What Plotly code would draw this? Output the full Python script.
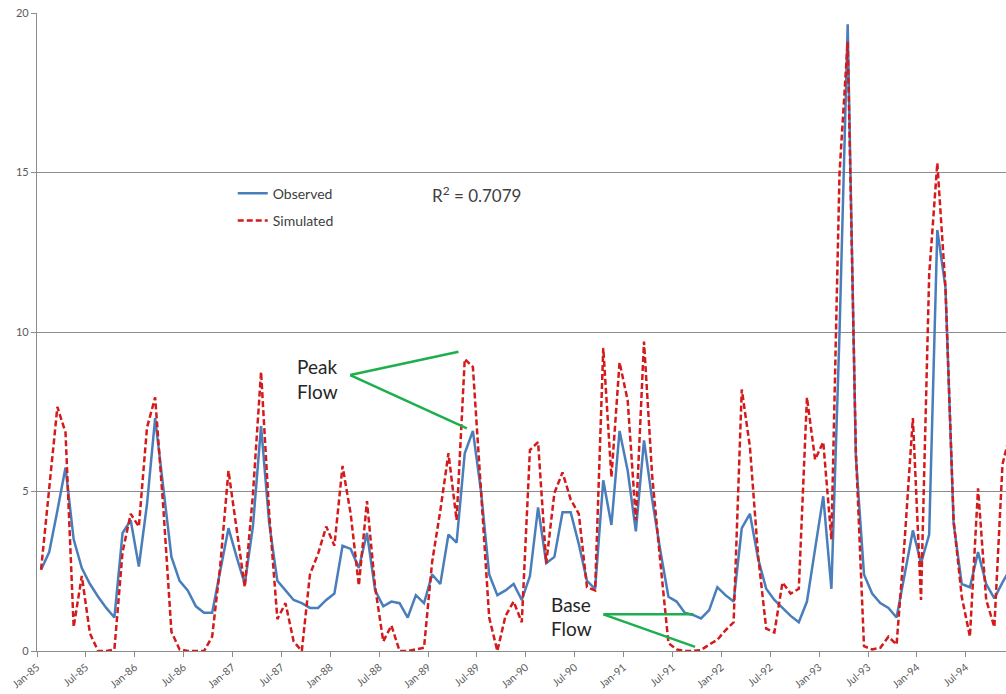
import plotly.graph_objects as go

# ---- data (monthly, Jan-1985 .. Dec-1994) ----
month_names = ["Jan", "Feb", "Mar", "Apr", "May", "Jun",
               "Jul", "Aug", "Sep", "Oct", "Nov", "Dec"]
years = ["85", "86", "87", "88", "89", "90", "91", "92", "93", "94"]
months = [f"{m}-{y}" for y in years for m in month_names]

observed = [
    2.55, 3.10, 4.40, 5.75, 3.50, 2.60, 2.10, 1.70, 1.35, 1.05, 3.70, 4.10,   # 1985
    2.65, 4.60, 7.30, 5.20, 2.95, 2.20, 1.90, 1.40, 1.20, 1.20, 2.50, 3.85,   # 1986
    2.95, 2.10, 3.90, 7.05, 4.00, 2.20, 1.90, 1.60, 1.50, 1.35, 1.35, 1.60,   # 1987
    1.80, 3.30, 3.20, 2.60, 3.70, 1.90, 1.40, 1.55, 1.50, 1.05, 1.75, 1.50,   # 1988
    2.40, 2.10, 3.65, 3.40, 6.20, 6.90, 5.00, 2.40, 1.75, 1.90, 2.10, 1.60,   # 1989
    2.35, 4.50, 2.75, 2.95, 4.35, 4.35, 3.35, 2.20, 1.95, 5.35, 3.95, 6.90,   # 1990
    5.65, 3.75, 6.60, 4.75, 3.15, 1.70, 1.55, 1.20, 1.13, 1.02, 1.28, 2.00,   # 1991
    1.75, 1.55, 3.85, 4.30, 2.90, 1.95, 1.60, 1.35, 1.10, 0.90, 1.55, 3.20,   # 1992
    4.85, 1.95, 10.0, 19.65, 6.10, 2.40, 1.80, 1.50, 1.35, 1.05, 2.40, 3.78,  # 1993
    2.75, 3.65, 13.2, 11.4, 4.00, 2.10, 2.00, 3.10, 2.10, 1.65, 2.15, 2.60,   # 1994
]

simulated = [
    2.55, 5.00, 7.65, 6.85, 0.75, 2.35, 0.55, 0.00, 0.00, 0.05, 3.10, 4.30,   # 1985
    3.90, 7.00, 7.95, 4.50, 0.60, 0.05, 0.00, 0.00, 0.00, 0.45, 2.70, 5.65,   # 1986
    3.80, 2.00, 4.90, 8.75, 4.30, 1.00, 1.50, 0.30, 0.00, 2.40, 3.05, 3.90,   # 1987
    3.30, 5.80, 4.30, 2.05, 4.70, 2.00, 0.30, 0.80, 0.00, 0.00, 0.05, 0.10,   # 1988
    2.80, 4.40, 6.20, 4.10, 9.15, 8.90, 5.00, 1.05, 0.00, 1.10, 1.55, 0.90,   # 1989
    6.30, 6.55, 2.75, 4.95, 5.60, 4.75, 4.30, 2.00, 1.90, 9.50, 5.45, 9.05,   # 1990
    7.85, 4.10, 9.70, 5.50, 2.80, 0.25, 0.05, 0.00, 0.00, 0.03, 0.20, 0.35,   # 1991
    0.65, 0.90, 8.20, 6.40, 3.00, 0.70, 0.58, 2.15, 1.80, 1.95, 7.95, 6.00,   # 1992
    6.55, 3.50, 15.0, 19.10, 6.30, 0.15, 0.05, 0.10, 0.45, 0.20, 3.50, 7.30,  # 1993
    1.60, 11.8, 15.3, 11.4, 4.10, 1.70, 0.45, 5.10, 1.60, 0.75, 5.85, 6.90,   # 1994
]

tick_labels = ["Jan-85", "Jul-85", "Jan-86", "Jul-86", "Jan-87", "Jul-87",
               "Jan-88", "Jul-88", "Jan-89", "Jul-89", "Jan-90", "Jul-90",
               "Jan-91", "Jul-91", "Jan-92", "Jul-92", "Jan-93", "Jul-93",
               "Jan-94", "Jul-94"]

# x positions: one slot per month; labelled ticks sit on the month boundaries
x = list(range(len(months)))
tick_positions = [months.index(lbl) - 0.5 for lbl in tick_labels]

GRID = "#8c8c8c"
TXT = "#595959"
GREEN = "#1DAF4E"

fig = go.Figure()
fig.add_trace(go.Scatter(
    x=x, y=observed, mode="lines", name="Observed", customdata=months,
    line=dict(color="#4A7EBB", width=2.5), legendgroup="obs",
    hovertemplate="%{customdata}: %{y}<extra>Observed</extra>"))
fig.add_trace(go.Scatter(
    x=x, y=simulated, mode="lines", name="Simulated", customdata=months,
    line=dict(color="#D41B1B", width=2.5, dash="6px,3px"), legendgroup="sim",
    hovertemplate="%{customdata}: %{y}<extra>Simulated</extra>"))

fig.update_layout(
    width=1006, height=694,
    margin=dict(l=37, r=0, t=13, b=43),
    paper_bgcolor="white", plot_bgcolor="white",
    font=dict(family="Lato, 'Open Sans', sans-serif", color=TXT),
    legend=dict(x=0.202, y=0.742, xanchor="left", yanchor="top",
                font=dict(size=14, color="#404040"),
                bgcolor="rgba(0,0,0,0)", traceorder="grouped",
                tracegroupgap=6, itemwidth=30),
    xaxis=dict(range=[-0.5, 118.43], tickmode="array",
               tickvals=tick_positions, ticktext=tick_labels,
               tickangle=-40, tickfont=dict(size=10.5, color=TXT),
               showgrid=False, zeroline=False, showline=True,
               linecolor=GRID, linewidth=1.3, ticks="outside",
               ticklen=5, tickcolor=GRID, automargin=False),
    yaxis=dict(range=[0, 20], tickmode="array", tickvals=[0, 5, 10, 15, 20],
               tickfont=dict(size=11, color=TXT), showgrid=True,
               gridcolor=GRID, gridwidth=1.3, zeroline=False,
               showline=True, linecolor=GRID, linewidth=1.3,
               ticks="outside", ticklen=5, tickcolor=GRID, automargin=False),
)

# R-squared label
fig.add_annotation(xref="paper", yref="paper", x=0.454, y=0.737,
                   text="R<sup>2</sup> = 0.7079", showarrow=False,
                   font=dict(size=17, color="#404040"))

# Peak / Base flow call-outs
for txt, xx, yy in [("Peak", 31.2, 8.92), ("Flow", 31.2, 8.13),
                    ("Base", 62.3, 1.47), ("Flow", 62.4, 0.71)]:
    fig.add_annotation(xref="x", yref="y", x=xx, y=yy, text=txt,
                       showarrow=False, xanchor="left",
                       font=dict(size=19, color="#262626"))

for (x0, y0, x1, y1) in [(37.94, 8.65, 51.23, 9.38), (37.94, 8.65, 52.26, 6.98),
                         (69.02, 1.15, 80.06, 1.15), (69.02, 1.15, 80.27, 0.13)]:
    fig.add_shape(type="line", xref="x", yref="y", x0=x0, y0=y0, x1=x1, y1=y1,
                  line=dict(color=GREEN, width=2.5))

# drop the browser's default 8px body margin so the figure fills the window
fig.write_html("out.html",
               config={"displayModeBar": False},
               post_script="document.body.style.margin='0';"
                           "document.body.style.overflow='hidden';")
